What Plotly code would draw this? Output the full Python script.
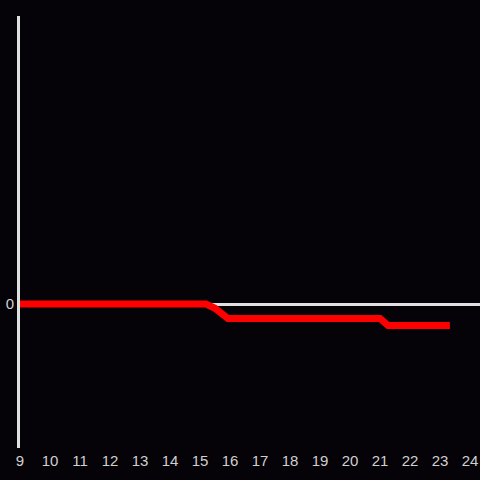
import plotly.graph_objects as go

hours = [9, 15.2, 15.5, 15.93, 21.0, 21.27, 23.33]
values = [0, 0, -0.03, -0.1, -0.1, -0.15, -0.15]
x_ticks = list(range(9, 25))
y_ticks = [0]

fig = go.Figure()
fig.add_trace(go.Scatter(x=hours, y=values, mode="lines",
                         line=dict(color="#ff0000", width=7), hoverinfo="skip"))

fig.update_layout(
    width=480, height=480,
    margin=dict(l=20, r=0, t=16, b=32),
    paper_bgcolor="#050307", plot_bgcolor="#050307",
    showlegend=False,
    font=dict(family="Liberation Sans, Arial, sans-serif", size=15, color="#d0d0d0"),
)
fig.update_xaxes(range=[9, 24.333], tickvals=x_ticks, ticktext=[str(t) for t in x_ticks],
                 showgrid=False, zeroline=False, showline=False, ticks="", ticklabelstandoff=2)
fig.update_yaxes(range=[-1, 2], tickvals=y_ticks, ticktext=["0"],
                 showgrid=False, zeroline=True, zerolinecolor="#e0e0e0", zerolinewidth=3,
                 showline=True, linecolor="#e0e0e0", linewidth=3, ticks="")

fig.write_html("out.html", config={"displayModeBar": False},
               post_script="document.body.style.margin='0';document.body.style.background='#050307';")
